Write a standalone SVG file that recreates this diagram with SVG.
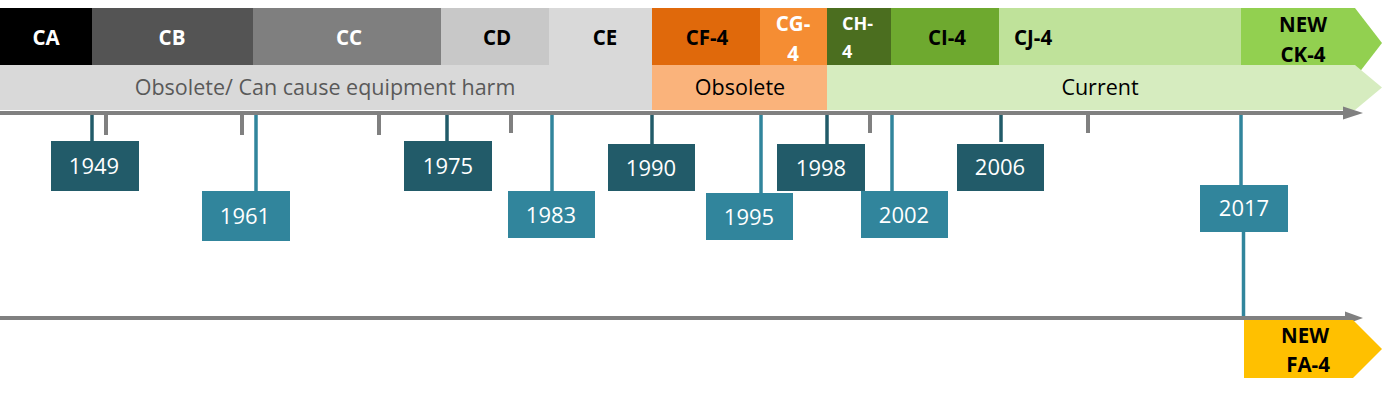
<svg xmlns="http://www.w3.org/2000/svg" width="1382" height="395" viewBox="0 0 1382 395">
<style>
.lbl{font-family:"Open Sans","Liberation Sans",sans-serif;font-weight:bold;font-size:20.5px;text-anchor:middle}
.w{fill:#ffffff}.k{fill:#000000}
.phase{font-family:"Open Sans","Liberation Sans",sans-serif;font-size:21.5px;text-anchor:middle}
.yr{font-family:"Open Sans","Liberation Sans",sans-serif;font-size:22px;fill:#ffffff;text-anchor:middle}
.dark{fill:#225b69}.light{fill:#31859c}
.stemD{stroke:#225b69;stroke-width:3.5}
.stemL{stroke:#31859c;stroke-width:3.5}
.tick{stroke:#808080;stroke-width:4}
.axis{stroke:#808080;stroke-width:4}
</style>
<rect width="1382" height="395" fill="#ffffff"/>
<!-- category row -->
<g id="cat-CA"><rect x="0" y="8" width="92" height="57" fill="#000000"/><text class="lbl w" x="46" y="45">CA</text></g>
<g id="cat-CB"><rect x="92" y="8" width="161" height="57" fill="#545454"/><text class="lbl w" x="172" y="45">CB</text></g>
<g id="cat-CC"><rect x="253" y="8" width="188" height="57" fill="#7f7f7f"/><text class="lbl w" x="349" y="45">CC</text></g>
<g id="cat-CD"><rect x="441" y="8" width="108" height="57" fill="#c8c8c8"/><text class="lbl k" x="497" y="45">CD</text></g>
<g id="cat-CE"><rect x="549" y="8" width="103" height="57" fill="#d9d9d9"/><text class="lbl k" x="605" y="45">CE</text></g>
<g id="cat-CF4"><rect x="652" y="8" width="108" height="57" fill="#e0690b"/><text class="lbl k" x="707" y="45">CF-4</text></g>
<g id="cat-CG4"><rect x="760" y="8" width="67" height="57" fill="#f58d33"/><text class="lbl w" x="793" y="31">CG-</text><text class="lbl w" x="793" y="61">4</text></g>
<g id="cat-CH4"><rect x="827" y="8" width="64" height="57" fill="#4b6e1f"/><text class="lbl w" x="842" y="30" style="font-size:18px;text-anchor:start">CH-</text><text class="lbl w" x="842" y="58" style="font-size:18px;text-anchor:start">4</text></g>
<g id="cat-CI4"><rect x="891" y="8" width="108" height="57" fill="#6ea92f"/><text class="lbl k" x="947" y="45">CI-4</text></g>
<g id="cat-CJ4"><rect x="999" y="8" width="243" height="57" fill="#bfe29a"/><text class="lbl k" x="1014" y="45" style="text-anchor:start">CJ-4</text></g>
<g id="cat-CK4"><polygon points="1241,8 1355,8 1382,43 1355,78 1241,78" fill="#92d050"/><text class="lbl k" x="1303" y="32">NEW</text></g>
<!-- status row -->
<g id="status-obsolete-harm"><rect x="0" y="65" width="652" height="45" fill="#d9d9d9"/><text class="phase" x="325" y="95" fill="#595959">Obsolete/ Can cause equipment harm</text></g>
<g id="status-obsolete"><rect x="652" y="65" width="175" height="45" fill="#fab37b"/><text class="phase" x="740" y="95" fill="#000000">Obsolete</text></g>
<g id="status-current"><polygon points="827,65 1355,65 1382,87.5 1355,110 827,110" fill="#d6ecbf"/><text class="phase" x="1100" y="95" fill="#000000">Current</text></g>
<g id="cat-CK4-label2"><text class="lbl k" x="1303" y="62">CK-4</text></g>
<!-- axes and connectors -->
<g id="connectors">
<line class="axis" x1="0" y1="113" x2="1346" y2="113"/>
<polygon points="1343,106.5 1363,113 1343,119.5" fill="#808080"/>
<line class="axis" x1="0" y1="318" x2="1348" y2="318"/>
<polygon points="1345,311.5 1363,318 1345,324.5" fill="#808080"/>
<line class="tick" x1="106" y1="113" x2="106" y2="135"/>
<line class="tick" x1="242" y1="113" x2="242" y2="135"/>
<line class="tick" x1="379" y1="113" x2="379" y2="135"/>
<line class="tick" x1="511" y1="113" x2="511" y2="133"/>
<line class="tick" x1="870" y1="113" x2="870" y2="133"/>
<line class="tick" x1="1088" y1="113" x2="1088" y2="133"/>
<line class="stemD" x1="92" y1="115" x2="92" y2="142"/>
<line class="stemL" x1="256" y1="115" x2="256" y2="192"/>
<line class="stemD" x1="447" y1="115" x2="447" y2="142"/>
<line class="stemL" x1="552" y1="115" x2="552" y2="192"/>
<line class="stemD" x1="652" y1="115" x2="652" y2="145"/>
<line class="stemL" x1="761" y1="115" x2="761" y2="194"/>
<line class="stemD" x1="827" y1="115" x2="827" y2="145"/>
<line class="stemL" x1="892" y1="115" x2="892" y2="192"/>
<line class="stemD" x1="1001" y1="115" x2="1001" y2="142"/>
<line class="stemL" x1="1241" y1="115" x2="1241" y2="186"/>
<line class="stemL" x1="1243.5" y1="231" x2="1243.5" y2="316"/>
</g>
<!-- year nodes -->
<g id="y1949"><rect class="dark" x="51" y="141" width="88" height="50"/><text class="yr" x="94" y="174">1949</text></g>
<g id="y1961"><rect class="light" x="202" y="191" width="88" height="50"/><text class="yr" x="245" y="224">1961</text></g>
<g id="y1975"><rect class="dark" x="404" y="141" width="88" height="50"/><text class="yr" x="448" y="174">1975</text></g>
<g id="y1983"><rect class="light" x="508" y="191" width="87" height="47"/><text class="yr" x="551" y="223">1983</text></g>
<g id="y1990"><rect class="dark" x="608" y="144" width="87" height="47"/><text class="yr" x="651" y="176">1990</text></g>
<g id="y1995"><rect class="light" x="706" y="193" width="87" height="47"/><text class="yr" x="749" y="225">1995</text></g>
<g id="y1998"><rect class="dark" x="777" y="144" width="88" height="47"/><text class="yr" x="821" y="176">1998</text></g>
<g id="y2002"><rect class="light" x="861" y="191" width="87" height="47"/><text class="yr" x="904" y="223">2002</text></g>
<g id="y2006"><rect class="dark" x="957" y="144" width="87" height="47"/><text class="yr" x="1000" y="175">2006</text></g>
<g id="y2017"><rect class="light" x="1200" y="185" width="88" height="47"/><text class="yr" x="1244" y="216">2017</text></g>
<!-- new FA-4 -->
<g id="cat-FA4"><polygon points="1244,320 1353,320 1382,349 1353,378 1244,378" fill="#ffc000"/><text class="lbl k" x="1305" y="343">NEW</text><text class="lbl k" x="1308" y="372">FA-4</text></g>
</svg>
